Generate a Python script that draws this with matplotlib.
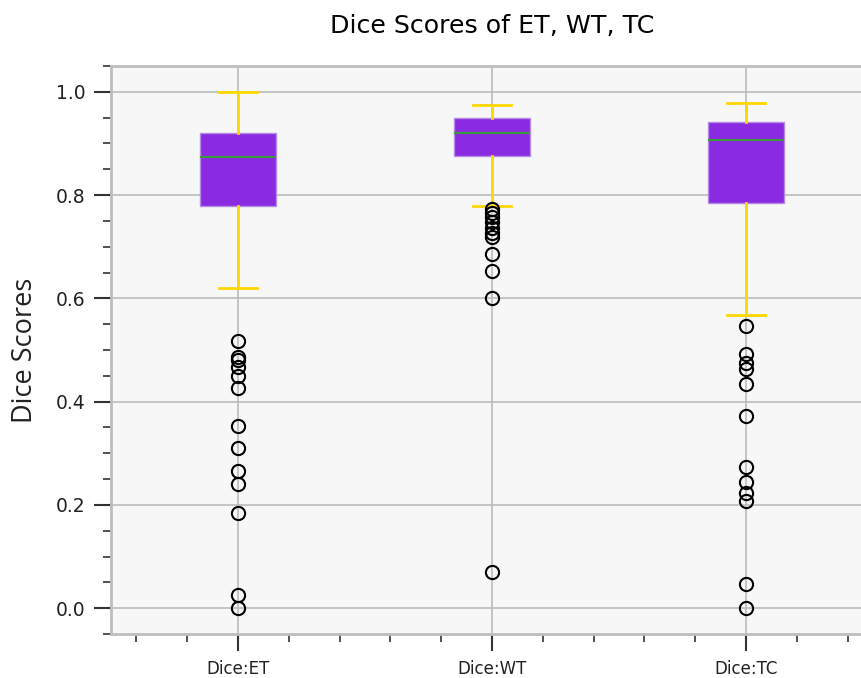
import matplotlib
matplotlib.use("Agg")
import matplotlib.pyplot as plt
from matplotlib.ticker import AutoMinorLocator, MultipleLocator

# box statistics per region
labels = ["Dice:ET", "Dice:WT", "Dice:TC"]
medians = [0.874, 0.921, 0.907]
q1 = [0.778, 0.876, 0.785]
q3 = [0.921, 0.949, 0.941]
whis_lo = [0.621, 0.779, 0.567]
whis_hi = [1.000, 0.975, 0.978]
fliers_et = [0.517, 0.487, 0.481, 0.467, 0.449, 0.427, 0.353, 0.311,
             0.266, 0.241, 0.184, 0.026, 0.001]
fliers_wt = [0.773, 0.766, 0.757, 0.747, 0.737, 0.727, 0.719, 0.685,
             0.652, 0.601, 0.070]
fliers_tc = [0.546, 0.492, 0.475, 0.464, 0.435, 0.373, 0.274, 0.245,
             0.224, 0.208, 0.046, 0.001]
fliers = [fliers_et, fliers_wt, fliers_tc]

stats = []
for i in range(len(labels)):
    stats.append({"label": labels[i], "med": medians[i], "q1": q1[i], "q3": q3[i],
                  "whislo": whis_lo[i], "whishi": whis_hi[i], "fliers": fliers[i]})

my_dpi = 100
fig = plt.figure(figsize=(862/my_dpi, 678/my_dpi), dpi=my_dpi)
ax = fig.add_axes([0.1288, 0.0649, 0.884, 0.8378])
ax.set_facecolor("#f7f7f7")

bp = ax.bxp(stats, positions=[1, 2, 3], widths=0.3, patch_artist=True,
            boxprops=dict(facecolor="#8a2be2", edgecolor="#b58be6", linewidth=1),
            whiskerprops=dict(color="#ffd700", linewidth=2),
            capprops=dict(color="#ffd700", linewidth=2),
            medianprops=dict(color="#3a9a3a", linewidth=1.5),
            flierprops=dict(marker="o", markerfacecolor="none", markeredgecolor="black",
                            markersize=9.5, markeredgewidth=1.5))

ax.set_xlim(0.5, 3.5)
ax.set_ylim(-0.05, 1.05)
ax.yaxis.set_major_locator(MultipleLocator(0.2))
ax.yaxis.set_minor_locator(AutoMinorLocator(4))
ax.xaxis.set_minor_locator(AutoMinorLocator(5))
ax.grid(True, color="#bcbcbc", linewidth=1.2)
ax.set_axisbelow(True)

for side in ["top", "bottom", "left", "right"]:
    ax.spines[side].set_color("#bdbdbd")
    ax.spines[side].set_linewidth(2)

ax.tick_params(which="major", length=12.5, width=1.5, color="#333333", labelcolor="#222222")
ax.tick_params(which="minor", length=6, width=1.2, color="#333333")
ax.tick_params(axis="y", labelsize=13.5, pad=6)
ax.tick_params(axis="x", labelsize=12, pad=6)

ax.set_ylabel("Dice Scores", fontsize=19.5, family="Open Sans", color="#222222", labelpad=12)
ax.set_title("Dice Scores of ET, WT, TC", fontsize=18.2, pad=24)

plt.savefig("out.png", dpi=my_dpi)
